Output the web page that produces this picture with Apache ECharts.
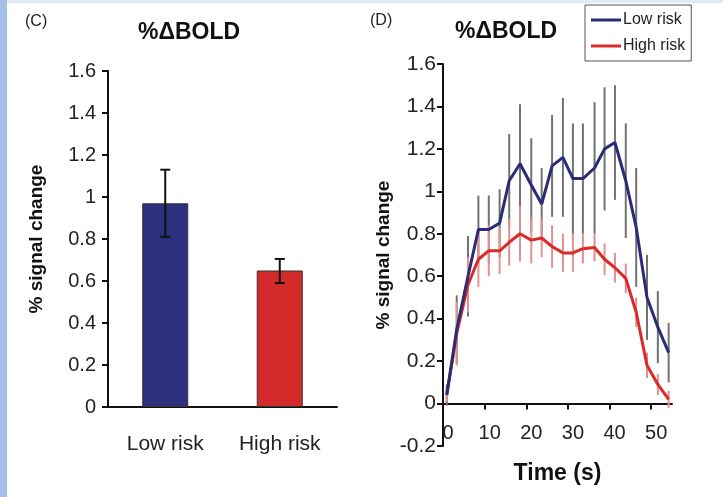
<!DOCTYPE html>
<html>
<head>
<meta charset="utf-8">
<script src="https://cdn.jsdelivr.net/npm/echarts@6/dist/echarts.min.js"></script>
<style>
  html, body { margin: 0; padding: 0; background: #fff; }
  #main { width: 723px; height: 497px; }
</style>
</head>
<body>
<div id="main"></div>
<script>
// panel C: mean %BOLD per group
var barCategories = ['Low risk', 'High risk'];
var barValues = [0.97, 0.65];
var barErrLow = [0.81, 0.59];
var barErrHigh = [1.13, 0.705];

// panel D: time course
var timeSec = [0.9, 3.3, 6.0, 8.5, 11.0, 13.6, 15.9, 18.5, 21.2, 23.7, 26.2, 28.8, 31.2, 33.6, 36.4, 38.8, 41.3, 43.9, 46.4, 49.0, 51.6, 54.2];
var lowRisk = [0.04, 0.35, 0.60, 0.82, 0.82, 0.85, 1.05, 1.13, 1.03, 0.94, 1.12, 1.16, 1.06, 1.06, 1.11, 1.20, 1.23, 1.05, 0.83, 0.50, 0.36, 0.24];
var lowRiskErr = [0.05, 0.16, 0.19, 0.16, 0.16, 0.16, 0.22, 0.28, 0.22, 0.17, 0.24, 0.28, 0.26, 0.26, 0.31, 0.29, 0.27, 0.27, 0.28, 0.20, 0.17, 0.14];
var highRisk = [0.04, 0.33, 0.56, 0.68, 0.72, 0.72, 0.76, 0.80, 0.77, 0.78, 0.74, 0.71, 0.71, 0.73, 0.735, 0.68, 0.64, 0.59, 0.43, 0.18, 0.09, 0.02];
var highRiskErr = [0.03, 0.15, 0.13, 0.13, 0.12, 0.11, 0.11, 0.13, 0.11, 0.09, 0.10, 0.09, 0.09, 0.07, 0.065, 0.075, 0.07, 0.07, 0.07, 0.06, 0.05, 0.04];
var timeTicks = [0, 10, 20, 30, 40, 50];

var FONT = '"Liberation Sans", Arial, sans-serif';
var chart = echarts.init(document.getElementById('main'));

function fmt(v) {
  return String(+v.toFixed(1));
}

function errorData(xs, ys, errs) {
  return xs.map(function (x, i) { return [x, ys[i] - errs[i], ys[i] + errs[i]]; });
}

function vLine(p1, p2, color, width) {
  return {
    type: 'line',
    shape: { x1: p1[0], y1: p1[1], x2: p2[0], y2: p2[1] },
    style: { stroke: color, lineWidth: width }
  };
}

var axisLineStyle = { color: '#111', width: 2 };

var option = {
  animation: false,
  backgroundColor: '#fff',
  graphic: [
    { type: 'rect', shape: { x: 0, y: 0, width: 723, height: 3 }, style: { fill: '#e2e9f6' } },
    { type: 'rect', shape: { x: 0, y: 0, width: 7, height: 497 }, style: { fill: '#a6bfe7' } },
    { type: 'text', x: 25, y: 22, style: { text: '(C)', font: '16px ' + FONT, fill: '#222', textVerticalAlign: 'middle' } },
    { type: 'text', x: 189, y: 33, style: { text: '%\u0394BOLD', font: 'bold 23px ' + FONT, fill: '#111', textAlign: 'center', textVerticalAlign: 'middle' } },
    { type: 'text', x: 370, y: 21, style: { text: '(D)', font: '16px ' + FONT, fill: '#222', textVerticalAlign: 'middle' } },
    { type: 'text', x: 506, y: 32, style: { text: '%\u0394BOLD', font: 'bold 23px ' + FONT, fill: '#111', textAlign: 'center', textVerticalAlign: 'middle' } }
  ],
  legend: {
    data: ['Low risk', 'High risk'],
    orient: 'vertical',
    left: 585,
    top: 5,
    padding: [7, 6, 7, 6],
    itemGap: 10,
    itemWidth: 30,
    itemHeight: 3,
    icon: 'rect',
    borderColor: '#555',
    borderWidth: 1,
    textStyle: { fontFamily: FONT, fontSize: 16, color: '#222', padding: [0, 0, 0, -3] }
  },
  grid: [
    { left: 108, right: 386, top: 71, bottom: 90, outerBoundsMode: 'none' },
    { left: 443, right: 51, top: 64, bottom: 51, outerBoundsMode: 'none' }
  ],
  xAxis: [
    {
      type: 'category',
      gridIndex: 0,
      data: barCategories,
      axisLine: { lineStyle: axisLineStyle },
      axisTick: { show: false },
      axisLabel: { fontFamily: FONT, fontSize: 21, color: '#222', margin: 27 }
    },
    {
      type: 'value',
      gridIndex: 1,
      min: 0,
      max: 55,
      interval: 10,
      // axis drawn at y = 0, which sits 0.2 units above the grid bottom
      offset: -42.4,
      splitLine: { show: false },
      axisLine: { onZero: false, lineStyle: axisLineStyle },
      axisTick: { customValues: timeTicks, length: 6, lineStyle: { color: '#111', width: 2 } },
      axisLabel: { customValues: timeTicks, fontFamily: FONT, fontSize: 20, color: '#222', margin: 20, padding: [0, 0, 0, 10] },
      name: 'Time (s)',
      nameLocation: 'middle',
      nameGap: 59,
      nameTextStyle: { fontFamily: FONT, fontSize: 23, fontWeight: 'bold', color: '#111' }
    }
  ],
  yAxis: [
    {
      type: 'value',
      gridIndex: 0,
      min: 0,
      max: 1.6,
      interval: 0.2,
      splitLine: { show: false },
      axisLine: { show: true, lineStyle: axisLineStyle },
      axisTick: { show: true, length: 6, lineStyle: { color: '#111', width: 2 } },
      axisLabel: { fontFamily: FONT, fontSize: 20, color: '#222', margin: 12, formatter: fmt },
      name: '% signal change',
      nameLocation: 'middle',
      nameGap: 62,
      nameTextStyle: { fontFamily: FONT, fontSize: 19, fontWeight: 'bold', color: '#111' }
    },
    {
      type: 'value',
      gridIndex: 1,
      min: -0.2,
      max: 1.6,
      interval: 0.2,
      splitLine: { show: false },
      axisLine: { show: true, onZero: false, lineStyle: axisLineStyle },
      axisTick: { show: true, length: 6, lineStyle: { color: '#111', width: 2 } },
      axisLabel: { fontFamily: FONT, fontSize: 21, color: '#222', margin: 7, formatter: fmt },
      name: '% signal change',
      nameLocation: 'middle',
      nameGap: 50,
      nameTextStyle: { fontFamily: FONT, fontSize: 19, fontWeight: 'bold', color: '#111' }
    }
  ],
  series: [
    {
      type: 'bar',
      xAxisIndex: 0,
      yAxisIndex: 0,
      barWidth: 46,
      data: barValues.map(function (v, i) {
        return { value: v, itemStyle: { color: i === 0 ? '#2c2e7e' : '#d42a2a' } };
      }),
      itemStyle: { borderColor: '#333', borderWidth: 1 }
    },
    {
      type: 'custom',
      xAxisIndex: 0,
      yAxisIndex: 0,
      data: barCategories.map(function (c, i) { return [i, barErrLow[i], barErrHigh[i]]; }),
      encode: { x: 0, y: [1, 2] },
      z: 5,
      renderItem: function (params, api) {
        var lo = api.coord([api.value(0), api.value(1)]);
        var hi = api.coord([api.value(0), api.value(2)]);
        var w = 5;
        return {
          type: 'group',
          children: [
            vLine(lo, hi, '#111', 2),
            vLine([lo[0] - w, lo[1]], [lo[0] + w, lo[1]], '#111', 2),
            vLine([hi[0] - w, hi[1]], [hi[0] + w, hi[1]], '#111', 2)
          ]
        };
      }
    },
    {
      type: 'custom',
      xAxisIndex: 1,
      yAxisIndex: 1,
      data: errorData(timeSec, lowRisk, lowRiskErr),
      encode: { x: 0, y: [1, 2] },
      z: 1,
      renderItem: function (params, api) {
        var lo = api.coord([api.value(0), api.value(1)]);
        var hi = api.coord([api.value(0), api.value(2)]);
        return vLine(lo, hi, '#727272', 2);
      }
    },
    {
      type: 'custom',
      xAxisIndex: 1,
      yAxisIndex: 1,
      data: errorData(timeSec, highRisk, highRiskErr),
      encode: { x: 0, y: [1, 2] },
      z: 1,
      renderItem: function (params, api) {
        var lo = api.coord([api.value(0), api.value(1)]);
        var hi = api.coord([api.value(0), api.value(2)]);
        return vLine(lo, hi, '#e39090', 2);
      }
    },
    {
      name: 'High risk',
      type: 'line',
      xAxisIndex: 1,
      yAxisIndex: 1,
      showSymbol: false,
      z: 3,
      color: '#dc2a2a',
      lineStyle: { color: '#dc2a2a', width: 3 },
      data: timeSec.map(function (t, i) { return [t, highRisk[i]]; })
    },
    {
      name: 'Low risk',
      type: 'line',
      xAxisIndex: 1,
      yAxisIndex: 1,
      showSymbol: false,
      z: 4,
      color: '#2b2c76',
      lineStyle: { color: '#2b2c76', width: 3 },
      data: timeSec.map(function (t, i) { return [t, lowRisk[i]]; })
    }
  ]
};

chart.setOption(option);
</script>
</body>
</html>
